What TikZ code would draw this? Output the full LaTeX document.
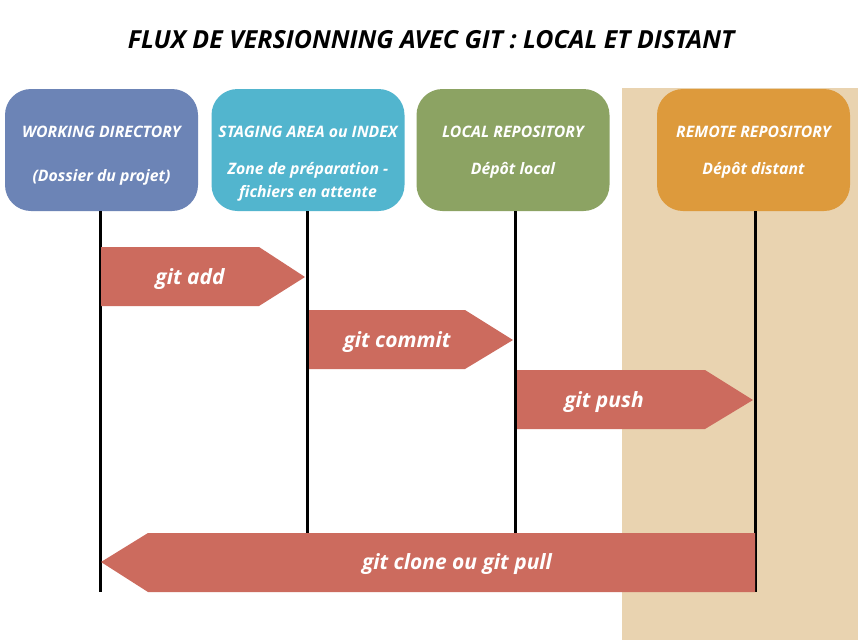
\documentclass[tikz,border=0pt]{standalone}
\usepackage{fontspec}
\setmainfont{Open Sans}
\definecolor{bgbeige}{HTML}{E9D3B0}
\definecolor{wdblue}{HTML}{6C84B6}
\definecolor{stcyan}{HTML}{52B5CE}
\definecolor{lrgreen}{HTML}{8CA363}
\definecolor{rrorange}{HTML}{DD9A3C}
\definecolor{arrred}{HTML}{CC6B5E}
\begin{document}
\begin{tikzpicture}[x=1pt,y=-1pt,
  box/.style={rounded corners=26pt, minimum width=193pt, minimum height=122pt, inner sep=0pt, draw=none},
  boxtxt/.style={text=white, font=\bfseries\itshape\fontsize{15.8}{18}\selectfont, inner sep=0pt, align=center},
  lifeline/.style={line width=3pt, black},
  gitarrow/.style={fill=arrred},
  arrtxt/.style={text=white, font=\bfseries\itshape\fontsize{21}{24}\selectfont, inner sep=0pt},
  titletxt/.style={font=\bfseries\itshape\fontsize{24.9}{28}\selectfont, inner sep=0pt}
]
\useasboundingbox (0,0) rectangle (862,640);
\fill[white] (0,0) rectangle (862,640);
\fill[bgbeige] (622,88) rectangle (858,640);

\node[titletxt] (title) at (431,39.5) {FLUX DE VERSIONNING AVEC GIT : LOCAL ET DISTANT};

\node[box, fill=wdblue] (wd) at (101.5,150) {};
\node[box, fill=stcyan] (st) at (308,150) {};
\node[box, fill=lrgreen] (lr) at (513,150) {};
\node[box, fill=rrorange] (rr) at (753.5,150) {};

\node[boxtxt] (wd1) at (101.5,132) {WORKING DIRECTORY};
\node[boxtxt] (wd2) at (101.5,177.5) {(Dossier du projet)};
\node[boxtxt] (st1) at (308,132) {STAGING AREA ou INDEX};
\node[boxtxt] (st2) at (308,170.5) {Zone de préparation -};
\node[boxtxt] (st3) at (308,193.5) {fichiers en attente};
\node[boxtxt] (lr1) at (513,132) {LOCAL REPOSITORY};
\node[boxtxt] (lr2) at (513,170.5) {Dépôt local};
\node[boxtxt] (rr1) at (753.5,132) {REMOTE REPOSITORY};
\node[boxtxt] (rr2) at (753.5,170.5) {Dépôt distant};

\coordinate (wdend) at (100,592);
\coordinate (stend) at (307,592);
\coordinate (lrend) at (515,592);
\coordinate (rrend) at (755,592);
\draw[lifeline] (wdend |- wd.south) -- (wdend);
\draw[lifeline] (stend |- st.south) -- (stend);
\draw[lifeline] (lrend |- lr.south) -- (lrend);
\draw[lifeline] (rrend |- rr.south) -- (rrend);

\fill[gitarrow] (101,247) -- (259,247) -- (305,277) -- (259,306) -- (101,306) -- cycle;
\node[arrtxt] (add) at (190,279) {git add};
\fill[gitarrow] (309,310) -- (465,310) -- (513,340) -- (465,369) -- (309,369) -- cycle;
\node[arrtxt] (commit) at (397,342) {git commit};
\fill[gitarrow] (517,370) -- (705,370) -- (753,400) -- (705,429) -- (517,429) -- cycle;
\node[arrtxt] (push) at (604,402) {git push};
\fill[gitarrow] (755,533) -- (148,533) -- (101,562) -- (148,592) -- (755,592) -- cycle;
\node[arrtxt] (clone) at (457,564) {git clone ou git pull};
\end{tikzpicture}
\end{document}
